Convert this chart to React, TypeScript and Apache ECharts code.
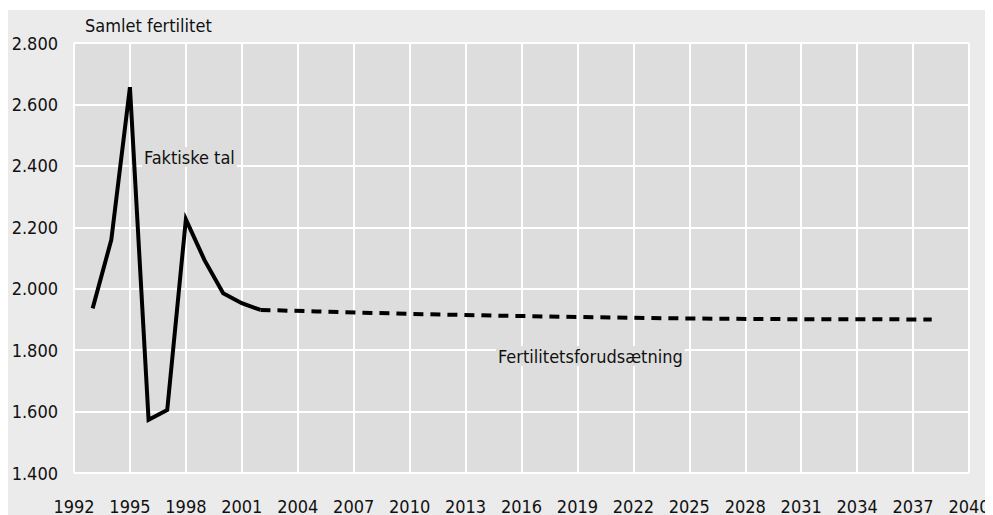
import React, { useEffect, useRef } from "react";
import * as echarts from "echarts";

const actualYears = [1993, 1994, 1995, 1996, 1997, 1998, 1999, 2000, 2001, 2002];
const actualValues = [1936, 2159, 2656, 1573, 1605, 2226, 2093, 1985, 1953, 1931];

const forecastYears = [2002, 2005, 2010, 2015, 2020, 2025, 2030, 2038];
const forecastValues = [1931, 1926, 1918, 1912, 1907, 1903, 1901, 1900];

const yTitle = "Samlet fertilitet";
const actualLabel = "Faktiske tal";
const forecastLabel = "Fertilitetsforudsætning";

const FONT = "'DejaVu Sans Condensed', 'Noto Sans', sans-serif";
const FS = 18;

const fmt = (v: number) => {
  const s = String(Math.round(v));
  return s.length > 3 ? s.slice(0, s.length - 3) + "." + s.slice(-3) : s;
};

export default function App() {
  const ref = useRef<HTMLDivElement>(null);
  useEffect(() => {
    if (!ref.current) return;
    const chart = echarts.init(ref.current, null, { renderer: "svg" });
    chart.setOption({
      animation: false,
      backgroundColor: "#ebebeb",
      grid: {
        left: 66,
        top: 33,
        right: 24,
        bottom: 42,
        show: true,
        backgroundColor: "#dddddd",
        borderWidth: 0,
        outerBoundsMode: "none",
        containLabel: false,
      },
      xAxis: {
        type: "value",
        min: 1992,
        max: 2040,
        interval: 3,
        axisLine: { show: false },
        axisTick: { show: false },
        splitLine: { show: true, lineStyle: { color: "#ffffff", width: 2 } },
        axisLabel: {
          color: "#111",
          fontSize: FS,
          fontFamily: FONT,
          margin: 24,
          hideOverlap: false,
          formatter: (v: number) => String(v),
        },
      },
      yAxis: {
        type: "value",
        min: 1400,
        max: 2800,
        interval: 200,
        axisLine: { show: false },
        axisTick: { show: false },
        splitLine: { show: true, lineStyle: { color: "#ffffff", width: 2 } },
        axisLabel: {
          color: "#111",
          fontSize: FS,
          fontFamily: FONT,
          margin: 16,
          formatter: (v: number) => fmt(v),
        },
      },
      graphic: [
        {
          type: "text",
          left: 77,
          top: 6,
          style: { text: yTitle, fontSize: FS, fontFamily: FONT, fill: "#111" },
        },
        {
          type: "text",
          left: 134,
          top: 137,
          z: 10,
          style: {
            text: actualLabel,
            fontSize: FS,
            fontFamily: FONT,
            fill: "#111",
            backgroundColor: "#dddddd",
            padding: [1, 2, 1, 2],
          },
        },
        {
          type: "text",
          left: 488,
          top: 336,
          z: 10,
          style: {
            text: forecastLabel,
            fontSize: FS,
            fontFamily: FONT,
            fill: "#111",
            backgroundColor: "#dddddd",
            padding: [1, 2, 1, 2],
          },
        },
      ],
      series: [
        {
          type: "line",
          data: actualYears.map((y, i) => [y, actualValues[i]]),
          showSymbol: false,
          z: 20,
          lineStyle: { color: "#000", width: 4, join: "miter" },
        },
        {
          type: "line",
          data: forecastYears.map((y, i) => [y, forecastValues[i]]),
          showSymbol: false,
          z: 20,
          lineStyle: { color: "#000", width: 4, type: [10, 7] },
        },
      ],
    });
    return () => chart.dispose();
  }, []);
  return (
    <div style={{ paddingTop: 2 }}>
      <div ref={ref} style={{ width: 985, height: 505 }} />
    </div>
  );
}
